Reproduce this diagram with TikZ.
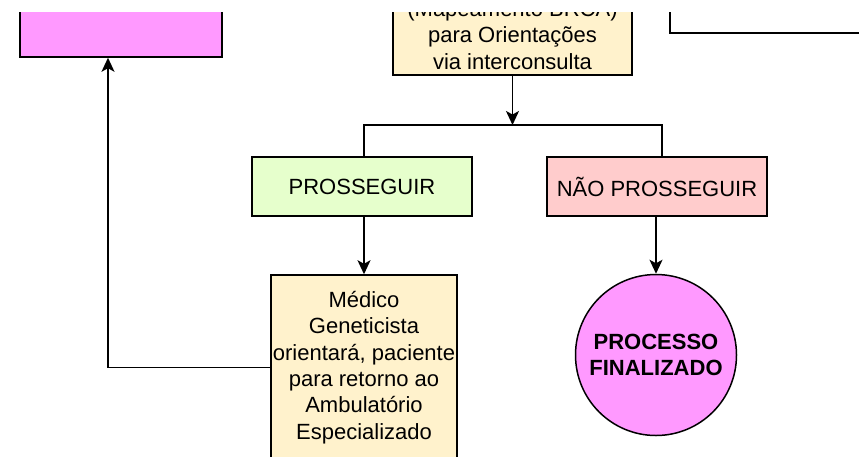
\documentclass[tikz,border=0pt]{standalone}
\usepackage{fontspec}
\setmainfont{Liberation Sans}
\usetikzlibrary{arrows.meta,shapes.geometric}
\definecolor{pinkfill}{HTML}{FF99FF}
\definecolor{yellowfill}{HTML}{FFF2CC}
\definecolor{greenfill}{HTML}{E6FFCC}
\definecolor{redfill}{HTML}{FFCCCC}
\tikzset{
  box/.style={draw=black,line width=1.5pt,rectangle,inner sep=0pt,align=center,
    font=\fontsize{22}{26.3}\selectfont},
  conn/.style={draw=black,line width=1.5pt},
  arr/.style={conn,-{Stealth[length=14pt,width=13pt,inset=3.5pt]}}
}
\begin{document}
\begin{tikzpicture}[x=1pt,y=-1pt]
\useasboundingbox[fill=white] (0,0) rectangle (859,459);
\clip (0,12) rectangle (859,456);
\node[box,fill=pinkfill,minimum width=202pt,minimum height=80pt] (pink) at (121,17) {};
\node[box,fill=yellowfill,minimum width=239pt,minimum height=80pt] (top) at (512.5,35)
  {(Mapeamento BRCA)\\para Orientações\\via interconsulta};
\node[box,fill=greenfill,minimum width=220pt,minimum height=59pt] (pros) at (362,186.5) {PROSSEGUIR};
\node[box,fill=redfill,minimum width=220pt,minimum height=59pt] (nao) at (657,186.5) {NÃO PROSSEGUIR};
\node[box,fill=yellowfill,minimum width=186pt,minimum height=185pt] (med) at (364,367.5)
  {Médico\\Geneticista\\orientará, paciente\\para retorno ao\\Ambulatório\\Especializado};
\node[box,circle,fill=pinkfill,minimum size=161pt,font=\fontsize{22}{26}\selectfont\bfseries] (circ) at (656,355)
  {PROCESSO\\FINALIZADO};
\coordinate (junc) at (512.5,125);
\coordinate (trA) at (670,-10);
\coordinate (trB) at (670,33);
\coordinate (trC) at (880,33);
\draw[arr] (top.south) -- (junc);
\draw[conn] ([xshift=2pt]pros.north) |- (junc) -| ([xshift=5pt]nao.north);
\draw[arr] (med.north |- pros.south) -- (med.north);
\draw[arr] (circ.north |- nao.south) -- (circ.north);
\draw[arr] (med.west) -| ([xshift=-13pt]pink.south);
\draw[conn] (trA) -- (trB) -- (trC);
\end{tikzpicture}
\end{document}
